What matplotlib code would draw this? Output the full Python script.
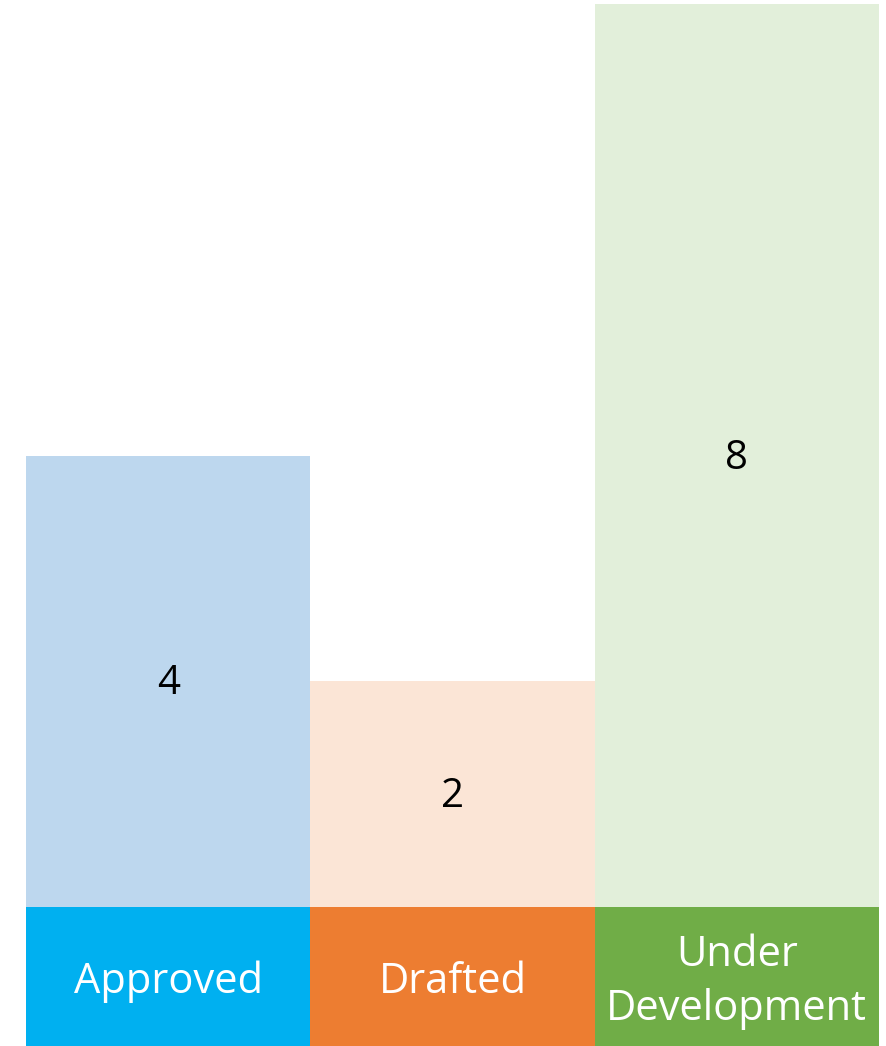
import matplotlib
matplotlib.use("Agg")
import matplotlib.pyplot as plt

categories = ["Approved", "Drafted", "Under\nDevelopment"]
values = [4, 2, 8]
light_colors = ["#BDD7EE", "#FBE5D6", "#E2EFDA"]
strong_colors = ["#00B0F0", "#ED7D31", "#70AD47"]

W, H = 887, 1046
fig = plt.figure(figsize=(W / 100, H / 100), dpi=100)
fig.patch.set_facecolor("white")

left = 26 / W
right = 879 / W
split = (H - 907) / H

ax = fig.add_axes([left, split, right - left, 1 - split])
ax2 = fig.add_axes([left, 0, right - left, split])

x = range(len(categories))
ax.bar(x, values, width=1.0, color=light_colors, edgecolor="none")
ax.set_xlim(-0.5, len(categories) - 0.5)
ax.set_ylim(0, 8 * 907 / 903)
for i, v in zip(x, values):
    ax.annotate(str(v), (i, v / 2), xytext=(0, -2), textcoords="offset points",
                ha="center", va="center", fontsize=29,
                family="Open Sans", color="black")
ax.axis("off")

ax2.bar(x, [1] * len(categories), width=1.0, color=strong_colors, edgecolor="none")
ax2.set_xlim(-0.5, len(categories) - 0.5)
ax2.set_ylim(0, 1)
for i, c in zip(x, categories):
    ax2.text(i, 0.46, c, ha="center", va="center", fontsize=30,
             family="Open Sans", color="white", linespacing=1.4)
ax2.axis("off")

fig.savefig("out.png", dpi=100, facecolor="white")
